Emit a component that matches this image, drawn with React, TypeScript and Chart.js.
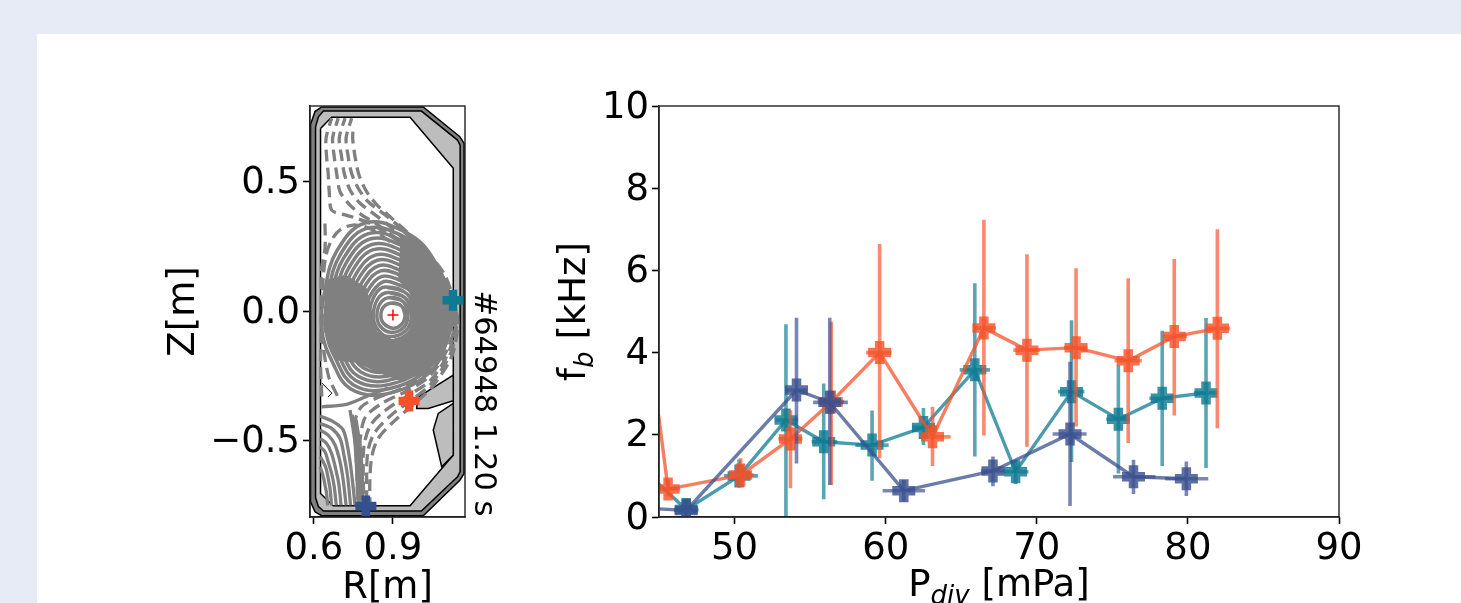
import React, { useEffect, useRef } from "react";
import { Chart, registerables } from "chart.js";

Chart.register(...registerables);

const FONT = "'DejaVu Sans'";
const ORANGE = "244,83,43";
const TEAL = "15,122,146";
const BLUE = "58,80,143";

// ---------- right panel: f_b against P_div ----------
const orangeX = [44, 45.6, 50.4, 53.7, 56.4, 59.6, 63.1, 66.5, 69.35, 72.6, 76.05, 79.1, 81.95];
const orangeY = [5.25, 0.68, 1.02, 1.9, 2.8, 4.0, 1.95, 4.6, 4.06, 4.12, 3.8, 4.39, 4.59];
const orangeLo = [5.25, 0.5, 0.73, 0.7, 0.78, 1.43, 1.24, 1.98, 1.71, 2.2, 1.8, 2.47, 2.16];
const orangeHi = [5.25, 0.9, 1.43, 2.6, 4.75, 6.64, 2.68, 7.23, 6.39, 6.05, 5.81, 6.28, 7.0];
const orangeXLo = [44, 45.05, 49.6, 52.9, 55.5, 58.7, 62.3, 65.8, 68.45, 71.8, 75.15, 78.35, 81.15];
const orangeXHi = [44, 46.4, 51.3, 54.5, 57.25, 60.4, 64.3, 67.3, 70.2, 73.35, 76.95, 79.95, 82.8];

const tealX = [44, 46.8, 50.3, 53.4, 55.9, 59.1, 62.5, 65.9, 68.6, 72.3, 75.4, 78.3, 81.2];
const tealY = [1.14, 0.18, 1.0, 2.36, 1.83, 1.75, 2.18, 3.58, 1.1, 3.05, 2.38, 2.89, 3.02];
const tealLo = [1.14, 0.0, 0.72, 0.02, 0.43, 0.88, 1.75, 1.47, 0.8, 1.34, 1.06, 1.24, 1.19];
const tealHi = [1.14, 0.45, 1.4, 4.69, 3.25, 2.59, 2.65, 5.69, 1.39, 4.79, 3.7, 4.53, 4.84];
const tealXLo = [44, 46.0, 49.3, 52.7, 55.1, 58.0, 61.75, 64.9, 67.85, 71.4, 74.6, 77.45, 80.4];
const tealXHi = [44, 47.6, 51.55, 54.2, 56.8, 60.2, 63.3, 66.9, 69.45, 73.15, 76.15, 79.05, 81.95];

const blueX = [44, 46.8, 54.1, 56.3, 61.2, 67.1, 72.2, 76.4, 79.9];
const blueY = [0.22, 0.16, 3.09, 2.79, 0.64, 1.12, 2.02, 0.98, 0.93];
const blueLo = [0.22, 0.0, 1.3, 0.78, 0.38, 0.75, 0.27, 0.56, 0.51];
const blueHi = [0.22, 0.4, 4.85, 4.85, 0.9, 1.47, 3.78, 1.39, 1.35];
const blueXLo = [44, 46.0, 53.4, 55.2, 59.8, 66.3, 71.05, 75.05, 78.5];
const blueXHi = [44, 47.6, 54.8, 57.5, 62.6, 67.9, 73.3, 77.85, 81.35];

const pdivTicks = [50, 60, 70, 80, 90];
const fbTicks = [0, 2, 4, 6, 8, 10];

// ---------- left panel: equilibrium ----------
const rTicks = [0.6, 0.9];
const zTicks = [-0.5, 0, 0.5];
const shotLabel = "#64948 1.20 s";

const vesselOuter = [[0.587,0.72],[0.604,0.77],[0.629,0.788],[1.015,0.788],[1.154,0.673],[1.17,0.647],[1.17,-0.627],[1.154,-0.653],[1.015,-0.79],[0.629,-0.79],[0.604,-0.775],[0.587,-0.736],[0.587,0.72]];
const vesselMid = [[0.606,0.71],[0.617,0.75],[0.636,0.772],[1.008,0.772],[1.145,0.66],[1.155,0.64],[1.155,-0.62],[1.145,-0.64],[1.008,-0.772],[0.636,-0.772],[0.617,-0.755],[0.606,-0.72],[0.606,0.71]];
const firstWall = [[0.625,0.705],[0.667,0.748],[0.965,0.748],[1.129,0.551],[1.129,-0.556],[0.965,-0.752],[0.673,-0.752],[0.625,-0.704],[0.625,0.705]];
const baffleUpper = [[0.994,-0.333],[1.129,-0.247],[1.129,-0.346],[1.034,-0.376],[0.99,-0.376],[0.994,-0.333]];
const baffleLower = [[1.129,-0.356],[1.072,-0.395],[1.053,-0.459],[1.085,-0.601],[1.129,-0.556],[1.129,-0.356]];
const scribble = [[0.63,-0.278],[0.668,-0.317],[0.653,-0.332]];

// Where the surfaces lie too close together to be told apart in the reference.
const denseFlux = [[0.93,0.3],[1.03,0.216],[1.105,0.09],[1.124,0.016],[1.105,-0.112],[1.03,-0.239],[0.93,-0.27],[0.85,-0.24],[0.76,-0.2],[0.68,-0.19],[0.635,-0.07],[0.645,0.12],[0.72,0.14],[0.8,0.09],[0.82,0.0],[0.84,-0.08],[0.9,-0.11],[0.96,-0.09],[0.985,-0.015],[0.965,0.07],[0.92,0.12],[0.93,0.3]];

const innerRings = [
  [[0.946,-0.015],[0.933,0.019],[0.9,0.031],[0.866,0.018],[0.854,-0.015],[0.863,-0.046],[0.9,-0.066],[0.932,-0.052]],
  [[0.957,-0.013],[0.94,0.035],[0.89,0.052],[0.854,0.033],[0.839,-0.015],[0.85,-0.056],[0.89,-0.082],[0.94,-0.064]],
  [[0.97,-0.012],[0.947,0.05],[0.881,0.072],[0.843,0.048],[0.825,-0.015],[0.838,-0.065],[0.88,-0.098],[0.949,-0.075]],
  [[0.981,-0.009],[0.954,0.066],[0.871,0.093],[0.832,0.063],[0.81,-0.015],[0.826,-0.075],[0.87,-0.115],[0.957,-0.087]],
];
// Outer flux surfaces: one row per point round the surface, one column per surface.
const ringR = [
  [.993,1.005,1.017,1.029,1.041,1.053,1.065,1.076,1.088,1.100,1.112,1.124],
  [.965,.972,.979,.986,.994,1.001,1.008,1.015,1.023,1.030,1.037,1.044],
  [.915,.917,.919,.921,.923,.926,.928,.930,.932,.934,.936,.938],
  [.866,.859,.853,.846,.840,.833,.826,.820,.813,.807,.800,.794],
  [.824,.812,.799,.787,.774,.762,.749,.737,.724,.712,.700,.687],
  [.799,.785,.771,.756,.742,.728,.713,.699,.685,.670,.656,.642],
  [.794,.779,.765,.750,.735,.720,.705,.690,.675,.660,.645,.630],
  [.813,.800,.787,.774,.761,.749,.736,.723,.710,.698,.685,.672],
  [.843,.834,.824,.815,.806,.796,.787,.778,.768,.759,.750,.740],
  [.889,.887,.885,.883,.882,.880,.878,.876,.875,.873,.871,.870],
  [.957,.964,.972,.979,.986,.993,1.001,1.008,1.015,1.022,1.030,1.037],
  [.987,.998,1.009,1.020,1.030,1.041,1.052,1.062,1.073,1.084,1.095,1.105],
];
const ringZ = [
  [-.008,-.006,-.004,-.001,.001,.003,.005,.007,.009,.011,.013,.016],
  [.077,.090,.102,.115,.128,.140,.153,.166,.178,.191,.204,.216],
  [.104,.123,.142,.160,.179,.197,.216,.235,.253,.272,.290,.309],
  [.114,.134,.155,.175,.196,.216,.237,.257,.278,.299,.319,.340],
  [.077,.091,.105,.119,.133,.147,.161,.175,.189,.203,.218,.232],
  [.023,.028,.034,.039,.044,.049,.055,.060,.065,.071,.076,.081],
  [-.035,-.038,-.042,-.045,-.049,-.052,-.056,-.059,-.063,-.066,-.070,-.073],
  [-.085,-.095,-.106,-.116,-.127,-.138,-.148,-.159,-.169,-.180,-.190,-.201],
  [-.120,-.136,-.153,-.169,-.186,-.202,-.219,-.235,-.252,-.268,-.285,-.301],
  [-.131,-.148,-.166,-.183,-.200,-.217,-.235,-.252,-.269,-.286,-.303,-.321],
  [-.104,-.117,-.129,-.141,-.153,-.166,-.178,-.190,-.202,-.215,-.227,-.239],
  [-.054,-.059,-.065,-.070,-.075,-.080,-.086,-.091,-.096,-.101,-.107,-.112],
];

const dashedLines = [
  [[0.667,0.744],[0.646,0.667],[0.648,0.596],[0.654,0.532],[0.658,0.461],[0.667,0.39],[0.711,0.373],[0.749,0.362],[0.813,0.338],[0.876,0.3],[0.939,0.255],[1.015,0.178],[1.104,0.07],[1.128,-0.02],[1.1,-0.13],[1.03,-0.235],[0.93,-0.3],[0.84,-0.335],[0.78,-0.37],[0.755,-0.43],[0.76,-0.55],[0.767,-0.75]],
  [[0.692,0.744],[0.671,0.667],[0.677,0.596],[0.686,0.532],[0.699,0.461],[0.737,0.409],[0.781,0.371],[0.844,0.332],[0.927,0.268],[1.015,0.184],[1.116,0.062],[1.138,-0.02],[1.11,-0.14],[1.04,-0.25],[0.95,-0.31],[0.86,-0.355],[0.795,-0.41],[0.775,-0.5],[0.775,-0.6],[0.778,-0.75]],
  [[0.718,0.744],[0.696,0.667],[0.705,0.596],[0.715,0.532],[0.737,0.467],[0.775,0.416],[0.825,0.377],[0.889,0.326],[0.965,0.255],[1.041,0.171],[1.123,0.05],[1.14,-0.03],[1.115,-0.15],[1.045,-0.265],[0.96,-0.325],[0.875,-0.38],[0.815,-0.44],[0.79,-0.52],[0.787,-0.62],[0.79,-0.75]],
  [[0.743,0.744],[0.722,0.667],[0.73,0.596],[0.743,0.532],[0.768,0.474],[0.806,0.422],[0.863,0.377],[0.939,0.313],[1.009,0.242],[1.078,0.152],[1.129,0.036],[1.143,-0.04],[1.12,-0.16],[1.05,-0.275],[0.975,-0.34],[0.895,-0.4],[0.83,-0.47],[0.805,-0.54],[0.8,-0.64],[0.801,-0.75]],
  [[0.749,0.705],[0.747,0.667],[0.756,0.596],[0.771,0.525],[0.8,0.461],[0.84,0.409],[0.889,0.364],[0.952,0.306],[1.028,0.229],[1.097,0.139],[1.135,0.023],[1.146,-0.05],[1.125,-0.17],[1.055,-0.285],[0.985,-0.355],[0.91,-0.42],[0.845,-0.49],[0.82,-0.56],[0.812,-0.66],[0.813,-0.75]],
  [[0.889,0.268],[0.813,0.319],[0.749,0.332],[0.699,0.313],[0.667,0.274],[0.646,0.216],[0.635,0.126],[0.633,0.036],[0.632,-0.1],[0.655,-0.25],[0.69,-0.33]],
  [[0.642,0.338],[0.642,0.242],[0.629,0.165],[0.629,0.036],[0.629,-0.067],[0.625,-0.2],[0.63,-0.33]],
];
const dashOffsets = [4, 4, 4, 4, 14.7, 0, 0];

const solidLines = [
  [[0.623,-0.405],[0.673,-0.427],[0.711,-0.459],[0.73,-0.537],[0.743,-0.627],[0.756,-0.75]],
  [[0.623,-0.434],[0.667,-0.453],[0.699,-0.492],[0.715,-0.562],[0.728,-0.64],[0.739,-0.75]],
  [[0.623,-0.459],[0.654,-0.479],[0.68,-0.517],[0.699,-0.582],[0.711,-0.652],[0.722,-0.75]],
  [[0.623,-0.492],[0.648,-0.511],[0.667,-0.55],[0.682,-0.607],[0.694,-0.665],[0.703,-0.75]],
  [[0.623,-0.524],[0.642,-0.543],[0.654,-0.582],[0.667,-0.627],[0.677,-0.678],[0.685,-0.75]],
  [[0.623,-0.562],[0.635,-0.582],[0.646,-0.607],[0.654,-0.646],[0.661,-0.685],[0.667,-0.75]],
  [[0.623,-0.601],[0.63,-0.62],[0.637,-0.646],[0.642,-0.672],[0.648,-0.704],[0.652,-0.75]],
  [[0.737,-0.382],[0.756,-0.511],[0.768,-0.75]],
  [[0.745,-0.4],[0.762,-0.5],[0.772,-0.6],[0.775,-0.75]],
  [[0.76,-0.42],[0.775,-0.52],[0.783,-0.62],[0.787,-0.75]],
  [[0.629,-0.37],[0.724,-0.36],[0.794,-0.332],[0.881,-0.297]],
];

const axisPoint = [[0.9, -0.015]];
const tealProbe = [[1.128, 0.042]];
const orangeProbe = [[0.961, -0.347]];
const blueProbe = [[0.797, -0.753]];

const toPts = (a: number[][]) => a.map(([x, y]) => ({ x, y }));

function errPts(xs: number[], ys: number[], lo: number[], hi: number[], xlo: number[], xhi: number[]) {
  const out: { x: number; y: number | null }[] = [];
  xs.forEach((x, i) => {
    out.push({ x, y: lo[i] }, { x, y: hi[i] }, { x, y: null });
    out.push({ x: xlo[i], y: ys[i] }, { x: xhi[i], y: ys[i] }, { x: xhi[i], y: null });
  });
  return out;
}

function seriesDatasets(rgb: string, xs: number[], ys: number[], lo: number[], hi: number[], xlo: number[], xhi: number[]) {
  return [
    {
      data: errPts(xs, ys, lo, hi, xlo, xhi),
      showLine: true,
      spanGaps: false,
      borderColor: `rgba(${rgb},0.68)`,
      borderWidth: 3.6,
      pointRadius: 0,
      clip: 0,
    },
    {
      data: xs.map((x, i) => ({ x, y: ys[i] })),
      showLine: true,
      borderColor: `rgba(${rgb},0.75)`,
      borderWidth: 3.4,
      pointStyle: "cross",
      pointRadius: 11.5,
      pointBorderWidth: 9.5,
      pointBorderColor: `rgba(${rgb},0.82)`,
      pointBackgroundColor: "transparent",
      clip: 0,
    },
  ];
}

function drawParts(ctx: CanvasRenderingContext2D, parts: { t: string; f: string; dy: number }[]) {
  let w = 0;
  parts.forEach((p) => {
    ctx.font = p.f;
    w += ctx.measureText(p.t).width;
  });
  let x = -w / 2;
  ctx.textAlign = "left";
  ctx.textBaseline = "alphabetic";
  ctx.fillStyle = "#000";
  parts.forEach((p) => {
    ctx.font = p.f;
    ctx.fillText(p.t, x, p.dy);
    x += ctx.measureText(p.t).width;
  });
}

const framePlugin = {
  id: "frame",
  afterDraw(chart: any) {
    const { ctx, chartArea: a } = chart;
    ctx.save();
    ctx.strokeStyle = "#222";
    ctx.lineWidth = 1.4;
    ctx.strokeRect(a.left, a.top, a.right - a.left, a.bottom - a.top);
    ctx.restore();
  },
};

const eqLabelPlugin = {
  id: "eqLabel",
  afterDraw(chart: any) {
    const { ctx, chartArea: a } = chart;
    ctx.save();
    ctx.translate(a.right + 18, (a.top + a.bottom) / 2 + 92);
    ctx.rotate(Math.PI / 2);
    ctx.font = `30.5px ${FONT}`;
    ctx.fillStyle = "#000";
    ctx.textAlign = "center";
    ctx.textBaseline = "middle";
    ctx.fillText(shotLabel, 0, 0);
    ctx.restore();
  },
};

const fbLabelPlugin = {
  id: "fbLabels",
  afterDraw(chart: any) {
    const { ctx, chartArea: a } = chart;
    const big = `37px ${FONT}`;
    const sub = `italic 26px ${FONT}`;
    ctx.save();
    ctx.translate((a.left + a.right) / 2, a.bottom + 79);
    drawParts(ctx, [
      { t: "P", f: big, dy: 0 },
      { t: "div", f: sub, dy: 8 },
      { t: " [mPa]", f: big, dy: 0 },
    ]);
    ctx.restore();
    ctx.save();
    ctx.translate(a.left - 74, (a.top + a.bottom) / 2);
    ctx.rotate(-Math.PI / 2);
    drawParts(ctx, [
      { t: "f", f: big, dy: 0 },
      { t: "b", f: sub, dy: 8 },
      { t: " [kHz]", f: big, dy: 0 },
    ]);
    ctx.restore();
  },
};

const tickCommon = { color: "#000", font: { family: FONT, size: 37 }, autoSkip: false, maxRotation: 0, padding: 3 };
const gridCommon = { drawOnChartArea: false, drawTicks: true, tickLength: 7, tickWidth: 1.6, tickColor: "#000" };
const borderCommon = { color: "#222", width: 1.4 };

const setTicks = (vals: number[]) => (scale: any) => {
  scale.ticks = vals.map((value) => ({ value }));
};

export default function App() {
  const eqRef = useRef<HTMLCanvasElement>(null);
  const fbRef = useRef<HTMLCanvasElement>(null);

  useEffect(() => {
    const poly = (a: number[][], fillColor: string, lw = 1.5, edge = "#000") => ({
      data: toPts(a),
      showLine: true,
      fill: "shape",
      backgroundColor: fillColor,
      borderColor: edge,
      borderWidth: lw,
      pointRadius: 0,
      clip: 0,
    });
    const grey = (a: number[][], lw: number, dash: number[], offset: number, tension: number) => ({
      data: toPts(a),
      showLine: true,
      borderColor: "#808080",
      borderWidth: lw,
      borderDash: dash,
      borderDashOffset: offset,
      tension,
      pointRadius: 0,
      clip: 0,
    });
    const probe = (a: number[][], rgb: string) => ({
      data: toPts(a),
      pointStyle: "cross",
      pointRadius: 10.5,
      pointBorderWidth: 8.5,
      pointBorderColor: `rgb(${rgb})`,
      clip: false,
    });
    const outerRings = ringR[0].map((_, k) => ringR.map((col, j) => [col[k], ringZ[j][k]]));
    const allRings = [...innerRings, ...outerRings];
    const eqLayers: any[] = [
      poly(vesselOuter, "#808080"),
      poly(vesselMid, "#bdbdbd"),
      poly(firstWall, "#ffffff"),
      poly(baffleUpper, "#bdbdbd"),
      poly(baffleLower, "#bdbdbd"),
      ...solidLines.map((l) => grey(l, 3.3, [], 0, 0.3)),
      ...dashedLines.map((l, i) => grey(l, 3.3, [12, 6], dashOffsets[i], 0.3)),
      poly(denseFlux, "#808080", 0, "#808080"),
      ...allRings.map((l) => grey([...l, l[0], l[1], l[2]], 3.5, [], 0, 0.4)),
      { data: toPts(scribble), showLine: true, borderColor: "#000", borderWidth: 1, pointRadius: 0 },
      { data: toPts(axisPoint), pointStyle: "cross", pointRadius: 5.5, pointBorderWidth: 1.5, pointBorderColor: "#ff0000" },
      probe(tealProbe, "15,122,146"),
      probe(orangeProbe, "245,81,43"),
      probe(blueProbe, "52,80,143"),
    ];

    const eq = new Chart(eqRef.current!, {
      type: "scatter",
      data: { datasets: eqLayers.slice().reverse() },
      plugins: [framePlugin, eqLabelPlugin],
      options: {
        responsive: false,
        animation: false,
        layout: { padding: { top: 46, right: 45, left: 0, bottom: 0 } },
        plugins: { legend: { display: false }, tooltip: { enabled: false } },
        scales: {
          x: {
            type: "linear",
            min: 0.585,
            max: 1.1735,
            afterBuildTicks: setTicks(rTicks),
            afterFit: (s: any) => { s.height = 113; },
            ticks: { ...tickCommon, callback: (v: any) => Number(v).toFixed(1) },
            grid: gridCommon,
            border: borderCommon,
            title: { display: true, text: "R[m]", color: "#000", font: { family: FONT, size: 37 }, padding: { top: 0, bottom: 19 } },
          },
          y: {
            type: "linear",
            min: -0.795,
            max: 0.7915,
            afterBuildTicks: setTicks(zTicks),
            afterFit: (s: any) => { s.width = 160; },
            ticks: { ...tickCommon, labelOffset: 2, callback: (v: any) => Number(v).toFixed(1).replace("-", "\u2212") },
            grid: gridCommon,
            border: borderCommon,
            title: { display: true, text: "Z[m]", color: "#000", font: { family: FONT, size: 37 }, padding: { top: 12, bottom: 0 } },
          },
        },
      } as any,
    } as any);

    const fbLayers: any[] = [
      ...seriesDatasets(TEAL, tealX, tealY, tealLo, tealHi, tealXLo, tealXHi),
      ...seriesDatasets(ORANGE, orangeX, orangeY, orangeLo, orangeHi, orangeXLo, orangeXHi),
      ...seriesDatasets(BLUE, blueX, blueY, blueLo, blueHi, blueXLo, blueXHi),
    ];
    const fb = new Chart(fbRef.current!, {
      type: "scatter",
      data: { datasets: fbLayers.slice().reverse() },
      plugins: [framePlugin, fbLabelPlugin],
      options: {
        responsive: false,
        animation: false,
        layout: { padding: { top: 46, right: 122, left: 0, bottom: 0 } },
        plugins: { legend: { display: false }, tooltip: { enabled: false } },
        scales: {
          x: {
            type: "linear",
            min: 45,
            max: 90,
            afterBuildTicks: setTicks(pdivTicks),
            afterFit: (s: any) => { s.height = 113; },
            ticks: { ...tickCommon },
            grid: gridCommon,
            border: borderCommon,
          },
          y: {
            type: "linear",
            min: 0,
            max: 10,
            afterBuildTicks: setTicks(fbTicks),
            afterFit: (s: any) => { s.width = 149; },
            ticks: { ...tickCommon, labelOffset: 2 },
            grid: gridCommon,
            border: borderCommon,
          },
        },
      } as any,
    } as any);

    return () => {
      eq.destroy();
      fb.destroy();
    };
  }, []);

  const blur = "blur(0.5px)";
  return (
    <div style={{ position: "fixed", inset: 0, background: "#e6ebf5", overflow: "hidden" }}>
      <div style={{ position: "absolute", left: 37, top: 34, right: 0, bottom: 0, background: "#fff" }} />
      <canvas ref={eqRef} width={360} height={570} style={{ position: "absolute", left: 150, top: 60, filter: blur }} />
      <canvas ref={fbRef} width={951} height={570} style={{ position: "absolute", left: 510, top: 60, filter: blur }} />
    </div>
  );
}
